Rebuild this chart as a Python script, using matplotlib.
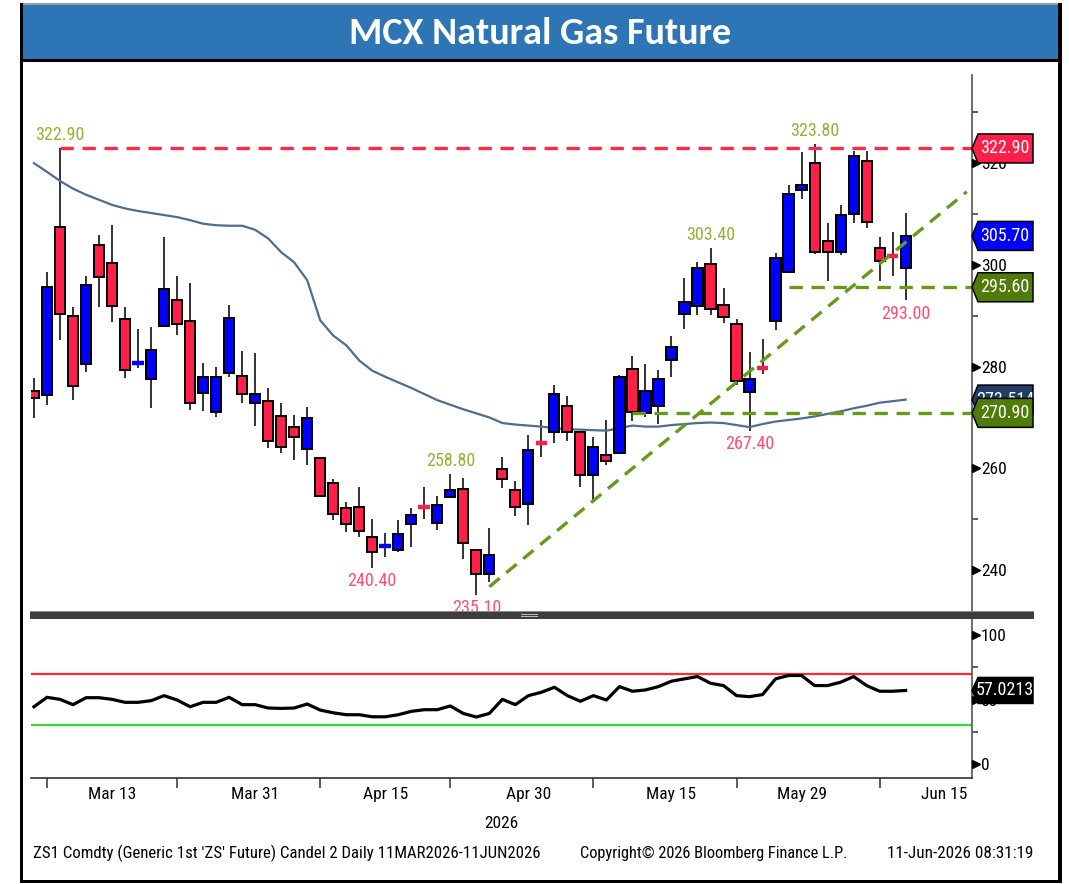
import matplotlib
matplotlib.use("Agg")
import matplotlib.pyplot as plt
import matplotlib.transforms as mtrans
import matplotlib.font_manager as fm
from matplotlib.patches import Rectangle, Polygon

_avail = {f.name for f in fm.fontManager.ttflist}
def fam(*c):
    return [x for x in c if x in _avail] + ['DejaVu Sans']
NARROW = fam('Liberation Sans Narrow', 'DejaVu Sans Condensed', 'Roboto Condensed')
TITLE_F = fam('Carlito', 'Lato', 'Open Sans')

# ---------------- data ----------------
opens = [275.2, 274.4, 307.4, 289.9, 280.5, 304.0, 300.4, 289.3, 280.7, 277.6,
         288.0, 293.0, 289.0, 274.9, 271.1, 278.8, 278.2, 272.9, 273.2, 270.2,
         268.2, 263.8, 262.0, 257.2, 252.1, 252.4, 246.4, 244.6, 243.9, 249.1,
         252.5, 249.3, 254.4, 256.0, 244.0, 239.3, 259.8, 255.7, 252.9, 265.0,
         267.2, 272.2, 267.2, 258.7, 262.7, 263.1, 279.6, 270.8, 272.2, 281.2,
         290.3, 291.9, 300.1, 292.1, 288.3, 275.1, 279.9, 289.0, 298.7, 314.7,
         320.1, 304.7, 302.6, 310.0, 320.5, 303.4, 301.9, 299.3]
highs = [277.8, 298.7, 322.9, 291.8, 297.8, 305.8, 307.9, 291.7, 287.4, 287.7,
         305.5, 297.8, 296.5, 280.8, 280.0, 292.1, 283.1, 282.7, 275.8, 272.9,
         270.4, 272.0, 262.2, 257.8, 253.3, 256.3, 250.0, 247.2, 249.9, 252.1,
         256.3, 254.5, 258.8, 258.0, 244.1, 248.2, 262.2, 257.6, 266.6, 269.5,
         276.4, 274.2, 267.3, 266.2, 269.5, 278.4, 282.0, 280.6, 279.3, 286.0,
         297.5, 300.5, 303.4, 295.4, 289.3, 282.9, 285.5, 302.4, 315.7, 322.3,
         323.8, 308.2, 311.7, 322.4, 322.4, 305.5, 306.5, 310.2]
lows = [269.8, 272.4, 285.3, 273.4, 279.0, 291.8, 288.7, 277.7, 279.7, 271.8,
        287.8, 286.2, 271.4, 271.3, 270.1, 278.0, 272.8, 268.3, 264.0, 263.0,
        261.7, 260.7, 254.3, 249.9, 247.5, 246.5, 240.4, 242.5, 243.6, 244.5,
        250.0, 247.9, 254.3, 242.1, 235.1, 237.7, 256.1, 250.6, 248.9, 262.2,
        265.0, 265.4, 256.4, 253.7, 260.7, 262.9, 269.3, 270.0, 268.7, 278.0,
        287.4, 290.1, 290.1, 288.5, 276.4, 267.4, 278.6, 287.2, 298.5, 312.9,
        302.2, 296.8, 302.0, 308.3, 307.2, 296.9, 297.8, 293.0]
closes = [273.9, 295.7, 290.3, 276.2, 296.0, 297.7, 292.0, 279.3, 280.9, 283.3,
          295.3, 288.3, 272.8, 277.9, 277.9, 289.6, 274.6, 274.6, 265.4, 264.2,
          266.2, 269.8, 254.6, 251.0, 249.0, 247.7, 243.5, 244.8, 247.1, 250.8,
          252.3, 252.7, 255.7, 245.3, 239.3, 243.0, 257.8, 252.4, 263.6, 264.8,
          274.6, 267.2, 258.7, 264.1, 261.5, 278.0, 271.1, 275.2, 277.6, 283.9,
          292.7, 299.3, 291.3, 289.8, 277.2, 277.6, 279.7, 301.3, 313.9, 315.7,
          302.6, 302.5, 309.8, 321.5, 308.4, 300.7, 301.7, 305.7]
ma = [320.0, 318.3, 316.5, 315.0, 313.8, 312.8, 311.8, 311.1, 310.6, 310.2,
      309.8, 309.4, 308.8, 308.1, 307.8, 307.7, 307.7, 306.9, 305.2, 302.5,
      300.5, 297.0, 289.1, 286.1, 284.2, 281.2, 279.2, 278.0, 276.9, 275.8,
      274.6, 273.4, 272.5, 271.6, 270.8, 270.0, 268.9, 268.6, 268.4, 268.2,
      267.9, 267.7, 267.6, 267.5, 267.4, 267.9, 268.4, 268.2, 268.2, 268.5,
      268.7, 268.9, 269.0, 268.9, 268.5, 268.1, 268.7, 269.2, 269.5, 269.8,
      270.2, 270.7, 271.2, 271.8, 272.3, 272.9, 273.2, 273.5]
rsi = [44.4, 51.7, 50.1, 46.0, 51.4, 51.4, 50.1, 47.8, 47.8, 49.1,
       53.0, 49.6, 44.4, 47.8, 47.8, 51.7, 46.0, 46.0, 43.4, 43.1,
       43.4, 46.5, 41.8, 39.7, 38.2, 38.2, 36.6, 36.6, 38.2, 40.8,
       42.1, 42.1, 45.0, 39.2, 36.4, 39.2, 50.1, 46.0, 53.0, 55.6,
       59.5, 53.0, 48.6, 53.0, 49.6, 60.0, 56.4, 57.4, 60.0, 64.2,
       66.0, 67.8, 62.6, 60.8, 53.0, 52.2, 53.8, 66.0, 68.6, 68.6,
       60.8, 60.8, 63.4, 67.8, 60.8, 56.4, 56.4, 57.0]

xtick_labels = ['Mar 13', 'Mar 31', 'Apr 15', 'Apr 30', 'May 15', 'May 29', 'Jun 15']
xtick_pos = [6, 17, 27, 38, 49, 59, 70]
period_ticks = [1, 11, 22, 32, 43, 54, 65]
price_major = [240, 260, 280, 300, 320]
price_minor = [250, 270, 290, 310, 330]
rsi_major = [0, 50, 100]
rsi_minor = [25, 75]

resistance, res_start = 322.90, 2
support_hi, sup_hi_start = 295.60, 58
support_lo, sup_lo_start = 270.90, 46
trend_x = [35, 71.7]
trend_y = [236.7, 314.4]
last_close = 305.70
ma_last = 273.514
rsi_last = 57.0213
rsi_upper, rsi_lower = 70, 30
peak_idx = [2, 32, 52, 60]
peak_val = [322.90, 258.80, 303.40, 323.80]
trough_idx = [26, 34, 55, 67]
trough_val = [240.40, 235.10, 267.40, 293.00]

UP, DOWN = '#0000ff', '#ff1f48'
OLIVE, PINK = '#9cae38', '#ff4f6e'
GREEN_D = '#659a1c'

# ---------------- figure ----------------
W, H = 1069, 884
fig = plt.figure(figsize=(W / 100, H / 100), dpi=100)

def rect(x0, y0, x1, y1):
    return [x0 / W, 1 - y1 / H, (x1 - x0) / W, (y1 - y0) / H]

def frect(x0, y0, x1, y1, **kw):
    fig.patches.append(Rectangle((x0 / W, 1 - y1 / H), (x1 - x0) / W, (y1 - y0) / H,
                                 transform=fig.transFigure, **kw))

# outer frame & title bar
frect(20, 3, 1062, 5, fc='#9a9a9a', ec='none')
frect(21, 5, 1061, 60, fc='#2e75b6', ec='none')
frect(20, 59, 1062, 62, fc='black', ec='none')
frect(20, 3, 23, 883, fc='black', ec='none')
frect(1058, 3, 1062, 883, fc='black', ec='none')
frect(20, 880, 1062, 883, fc='black', ec='none')

title = fig.text(540 / W, 1 - 34 / H, 'MCX Natural Gas Future', color='white',
                 fontsize=26, fontweight='bold', family=TITLE_F, ha='center', va='center')

AX_L, AX_R = 31, 972
AXW = AX_R - AX_L
ax = fig.add_axes(rect(AX_L, 75, AX_R, 611))
ax2 = fig.add_axes(rect(AX_L, 619, AX_R, 778))

PPU = 5.085   # pixels per price unit, 240 sits at y=570
ax.set_xlim(-0.23, 72.1)
ax.set_ylim(240 - (611 - 570) / PPU, 240 + (570 - 75) / PPU)
RPPU = 1.29   # 0 sits at y=764
ax2.set_xlim(-0.23, 72.1)
ax2.set_ylim(-(778 - 764) / RPPU, (764 - 619) / RPPU)

for a in (ax, ax2):
    for s in ('left', 'top'):
        a.spines[s].set_visible(False)
    a.spines['right'].set_color('#555555')
    a.spines['right'].set_linewidth(1.2)
ax.spines['bottom'].set_visible(False)
ax2.spines['bottom'].set_color('#333333')
ax2.spines['bottom'].set_linewidth(1.2)

# ---------------- candles ----------------
n = len(closes)
xs = list(range(n))
ax.vlines(xs, lows, highs, color='#222222', lw=1.3, zorder=2)
for i in range(n):
    o, c = opens[i], closes[i]
    col = UP if c >= o else DOWN
    if abs(c - o) < 0.6:
        ax.hlines((o + c) / 2, i - 0.45, i + 0.45, color=col, lw=3.2, zorder=3.5)
    else:
        ax.bar(i, abs(c - o), bottom=min(o, c), width=0.78, color=col,
               edgecolor='black', linewidth=1.4, zorder=3)

ax.plot(xs, ma, color='#4f6d8c', lw=1.6, zorder=2.5)

dash = (0, (4, 2.6))
ax.hlines(resistance, res_start, 72.1, color='#ff2a48', lw=2.4, linestyles=[dash], zorder=4)
ax.hlines(support_hi, sup_hi_start, 72.1, color=GREEN_D, lw=2.4, linestyles=[dash], zorder=4)
ax.hlines(support_lo, sup_lo_start, 72.1, color=GREEN_D, lw=2.4, linestyles=[dash], zorder=4)
ax.plot(trend_x, trend_y, color=GREEN_D, lw=2.4, ls=dash, zorder=4, clip_on=True)

for i, v in zip(peak_idx, peak_val):
    ax.annotate(f'{v:.2f}', xy=(i, v), xytext=(0, 13), textcoords='offset pixels',
                ha='center', va='center', color=OLIVE, fontsize=13, family=NARROW, zorder=5)
for i, v in zip(trough_idx, trough_val):
    ax.annotate(f'{v:.2f}', xy=(i, v), xytext=(0, -13.5), textcoords='offset pixels',
                ha='center', va='center', color=PINK, fontsize=13, family=NARROW, zorder=5,
                annotation_clip=False, clip_on=True)

# ---------------- RSI panel ----------------
ax2.plot(xs, rsi, color='black', lw=2.3, zorder=3)
ax2.axhline(rsi_upper, color='#ff2a2a', lw=1.6, zorder=2)
ax2.axhline(rsi_lower, color='#33dd33', lw=1.6, zorder=2)

# ---------------- right axes ----------------
def right_axis(a, major, minor):
    a.yaxis.set_ticks_position('right')
    a.set_yticks(major)
    a.set_yticks(minor, minor=True)
    a.set_yticklabels([str(m) for m in major])
    a.tick_params(axis='y', which='major', length=0, pad=6.5, labelsize=12.5, colors='black')
    a.tick_params(axis='y', which='minor', length=4, width=1.1, color='#333333')
    for lb in a.get_yticklabels():
        lb.set_family(NARROW)
    tr = mtrans.blended_transform_factory(a.transAxes, a.transData)
    a.plot([1 + 3.5 / AXW] * len(major), major, ls='none', marker='>', ms=5.5,
           color='black', transform=tr, clip_on=False, zorder=6)
    return tr

tr1 = right_axis(ax, price_major, price_minor)
tr2 = right_axis(ax2, rsi_major, rsi_minor)

def tag(a, tr, v, txt, fc, ppu, h=29, z=10):
    hh = h / 2 / ppu
    t0, b0, b1 = 1.0, 1 + 6 / AXW, 1 + 61 / AXW
    a.add_patch(Polygon([(t0, v), (b0, v + hh), (b1, v + hh), (b1, v - hh), (b0, v - hh)],
                        closed=True, transform=tr, fc=fc, ec='black', lw=1.1,
                        clip_on=False, zorder=z))
    a.text(1 + 33 / AXW, v, txt, transform=tr, color='white', fontsize=13, family=NARROW,
           ha='center', va='center', clip_on=False, zorder=z + 0.5)

tag(ax, tr1, resistance, f'{resistance:.2f}', '#ff1f48', PPU)
tag(ax, tr1, last_close, f'{last_close:.2f}', '#0000ff', PPU)
tag(ax, tr1, support_hi, f'{support_hi:.2f}', '#4f7c08', PPU)
tag(ax, tr1, ma_last, f'{ma_last:.3f}', '#1f3d66', PPU, z=10)
tag(ax, tr1, support_lo, f'{support_lo:.2f}', '#4f7c08', PPU, z=11)
tag(ax2, tr2, rsi_last, f'{rsi_last:.4f}', 'black', RPPU, h=26)

# ---------------- x axis ----------------
ax.set_xticks([])
ax2.set_xticks(xtick_pos)
ax2.set_xticklabels(xtick_labels)
ax2.set_xticks(period_ticks, minor=True)
ax2.tick_params(axis='x', which='major', length=0, pad=6.5, labelsize=12.5)
ax2.tick_params(axis='x', which='minor', length=7, width=1.1, color='#333333')
for lb in ax2.get_xticklabels():
    lb.set_family(NARROW)

fig.text(501 / W, 1 - 823 / H, '2026', fontsize=12.5, family=NARROW, ha='center', va='center')

# separator bar between panels
frect(AX_L - 1, 611, 1034, 619, fc='#3d3d3d', ec='none', zorder=20)
frect(AX_L - 1, 611, 1034, 612.3, fc='#8a8a8a', ec='none', zorder=21)
frect(521, 613.5, 538, 614.5, fc='#bbbbbb', ec='none', zorder=22)
frect(521, 616, 538, 617, fc='#bbbbbb', ec='none', zorder=22)

# footer
f1 = fig.text(33 / W, 1 - 853 / H, "ZS1 Comdty (Generic 1st 'ZS' Future) Candel 2 Daily 11MAR2026-11JUN2026",
              fontsize=12, family=NARROW, ha='left', va='center')
f2 = fig.text(580 / W, 1 - 853 / H, 'Copyright\u00a9 2026 Bloomberg Finance L.P.',
              fontsize=12, family=NARROW, ha='left', va='center')
f3 = fig.text(1033 / W, 1 - 853 / H, '11-Jun-2026 08:31:19',
              fontsize=12, family=NARROW, ha='right', va='center')

# fit text widths to the reference
renderer = fig.canvas.get_renderer()
for t, target in ((title, 383), (f1, 506), (f2, 267), (f3, 146)):
    wpx = t.get_window_extent(renderer).width
    t.set_fontsize(t.get_fontsize() * target / wpx)

fig.savefig('out.png', dpi=100)
